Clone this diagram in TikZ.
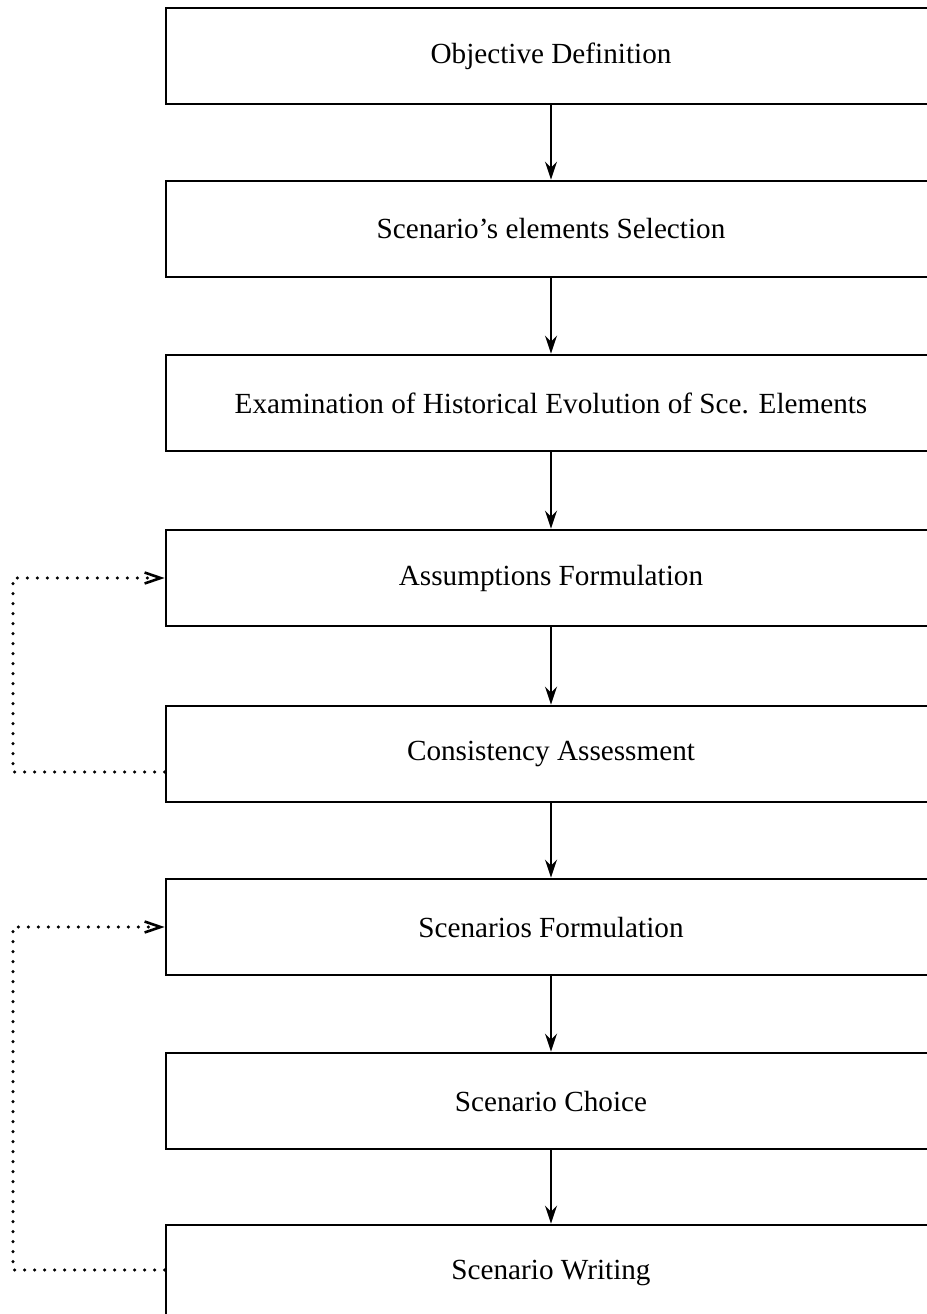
\documentclass[tikz,border=0pt]{standalone}
\usepackage{fontspec}
\setmainfont{Liberation Serif}
\usetikzlibrary{arrows.meta,calc}

\tikzset{
  stepbox/.style={draw, line width=1.4pt, rectangle, minimum width=385pt,
    minimum height=48pt, inner sep=0pt, font=\fontsize{14.6}{17}\selectfont},
  flow/.style={draw, line width=1.1pt,
    -{Stealth[length=9pt, width=6pt, inset=3pt]}},
  feedback/.style={draw, line width=1.7pt, line cap=round,
    dash pattern=on 0pt off 5pt,
    -{Straight Barb[length=8pt, width=5.5pt, line width=1.3pt]}},
}

\begin{document}
\begin{tikzpicture}[x=0.5pt, y=-0.5pt]
  \useasboundingbox (0,0) rectangle (927,1314);
  \clip (0,0) rectangle (927,1314);

  % process steps
  \node[stepbox] (b1) at (551,56)   {Objective Definition};
  \node[stepbox] (b2) at (551,229)  {Scenario's elements Selection};
  \node[stepbox] (b3) at (551,403)  {Examination of Historical Evolution of Sce. Elements};
  \node[stepbox] (b4) at (551,578)  {Assumptions Formulation};
  \node[stepbox] (b5) at (551,754)  {Consistency Assessment};
  \node[stepbox] (b6) at (551,927)  {Scenarios Formulation};
  \node[stepbox] (b7) at (551,1101) {Scenario Choice};
  \node[stepbox] (b8) at (551,1273) {Scenario Writing};

  % main sequence
  \draw[flow] (b1.south) -- (b2.north);
  \draw[flow] (b2.south) -- (b3.north);
  \draw[flow] (b3.south) -- (b4.north);
  \draw[flow] (b4.south) -- (b5.north);
  \draw[flow] (b5.south) -- (b6.north);
  \draw[flow] (b6.south) -- (b7.north);
  \draw[flow] (b7.south) -- (b8.north);

  % feedback loops
  \coordinate (r1) at (13,578);
  \coordinate (r2) at (13,927);
  \draw[feedback] ([yshift=-9pt]b5.west) -| (r1) -- (b4.west);
  \draw[feedback] ([yshift=1.5pt]b8.west) -| (r2) -- (b6.west);
\end{tikzpicture}
\end{document}
